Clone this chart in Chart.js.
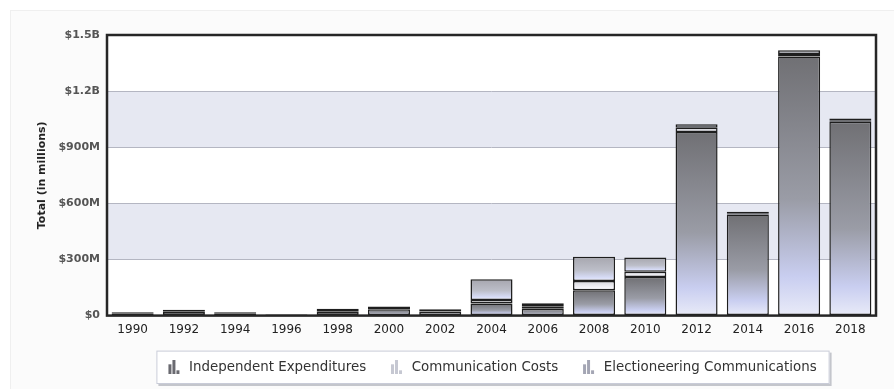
<!DOCTYPE html>
<html>
<head>
<meta charset="utf-8">
<script src="https://cdn.jsdelivr.net/npm/chart.js@4/dist/chart.umd.min.js"></script>
<style>
  html, body { margin: 0; padding: 0; background: #fff; }
  #chart { display: block; }
</style>
</head>
<body>
<canvas id="chart" width="894" height="389"></canvas>
<script>
// values in millions of dollars
const years = ["1990", "1992", "1994", "1996", "1998", "2000", "2002", "2004", "2006", "2008", "2010", "2012", "2014", "2016", "2018"];
const independentExp = [12, 20, 12, 5, 21, 34, 22, 65, 36, 136, 206, 982, 541, 1385, 1036];
const communicationCosts = [6, 11, 6, 2, 15, 14, 12, 19, 14, 49, 29, 22, 6, 14, 8];
const electioneering = [0, 0, 0, 0, 0, 0, 0, 110, 16, 130, 75, 19, 8, 19, 10];
const seriesNames = ["Independent Expenditures", "Communication Costs", "Electioneering Communications"];
const yTicks = [0, 300, 600, 900, 1200, 1500];

const series = [independentExp, communicationCosts, electioneering];

const fills = [
  ["#707074", "#9a9ca6", "#c9cef0", "#e9ebf8"],
  ["#d4d4da", "#ebebf0", "#f7f7fc", "#ffffff"],
  ["#a6a6ae", "#bcbec8", "#d6dbf6", "#eceefa"],
];
const iconColors = ["#6a6a70", "#c6c8d2", "#a4a6b4"];

function segFill(ctx) {
  const stops = fills[ctx.datasetIndex];
  const chart = ctx.chart;
  if (!chart.chartArea || ctx.type !== "data") return stops[1];
  const i = ctx.dataIndex;
  let base = 0;
  for (let k = 0; k < ctx.datasetIndex; k++) base += series[k][i];
  const top = base + series[ctx.datasetIndex][i];
  const y0 = chart.scales.y.getPixelForValue(top);
  const y1 = chart.scales.y.getPixelForValue(base);
  if (y1 - y0 < 2) return stops[1];
  const g = chart.ctx.createLinearGradient(0, y0, 0, y1);
  g.addColorStop(0, stops[0]);
  g.addColorStop(0.55, stops[1]);
  g.addColorStop(0.85, stops[2]);
  g.addColorStop(1, stops[3]);
  return g;
}

function makeIcon(color) {
  const c = document.createElement("canvas");
  c.width = 14;
  c.height = 14;
  const g = c.getContext("2d");
  g.fillStyle = color;
  g.fillRect(1, 4, 3, 10);
  g.fillRect(5, 0, 3, 14);
  g.fillRect(9, 10, 3, 4);
  return c;
}
const icons = iconColors.map(makeIcon);

const fmtMoney = (v) => (v === 0 ? "$0" : v >= 1000 ? "$" + (v / 1000).toFixed(1) + "B" : "$" + v + "M");

const framePlugin = {
  id: "frame",
  beforeDraw(chart) {
    const { ctx, chartArea: a, scales } = chart;
    ctx.save();
    ctx.fillStyle = "#ffffff";
    ctx.fillRect(0, 0, chart.width, chart.height);
    ctx.fillStyle = "#fbfbfb";
    ctx.fillRect(10, 10, chart.width - 10, chart.height - 10);
    ctx.strokeStyle = "#efefef";
    ctx.lineWidth = 1;
    ctx.strokeRect(10.5, 10.5, chart.width, chart.height);
    ctx.fillStyle = "#ffffff";
    ctx.fillRect(a.left, a.top, a.width, a.height);
    // alternating bands
    ctx.fillStyle = "#e6e8f2";
    for (let t = 1; t < yTicks.length - 1; t += 2) {
      const yTop = scales.y.getPixelForValue(yTicks[t + 1]);
      const yBot = scales.y.getPixelForValue(yTicks[t]);
      ctx.fillRect(a.left, yTop, a.width, yBot - yTop);
    }
    // legend box
    const boxes = chart.legend.legendHitBoxes;
    if (boxes && boxes.length) {
      const l = chart.legend;
      const x0 = boxes[0].left - 10;
      const last = boxes[boxes.length - 1];
      const x1 = last.left + last.width + 13;
      ctx.fillStyle = "#c4c6cc";
      ctx.fillRect(x0 + 2, l.top + 2, x1 - x0, l.bottom - l.top);
      ctx.fillStyle = "#ffffff";
      ctx.fillRect(x0, l.top, x1 - x0, l.bottom - l.top);
      ctx.strokeStyle = "#c9ccd8";
      ctx.strokeRect(x0 + 0.5, l.top + 0.5, x1 - x0 - 1, l.bottom - l.top - 1);
    }
    ctx.restore();
  },
  afterDatasetsDraw(chart) {
    const { ctx, chartArea: a } = chart;
    ctx.save();
    ctx.strokeStyle = "#262626";
    ctx.lineWidth = 2.5;
    ctx.strokeRect(a.left, a.top, a.width, a.height);
    ctx.restore();
  },
};

Chart.defaults.font.family = '"DejaVu Sans", Verdana, sans-serif';

new Chart(document.getElementById("chart"), {
  type: "bar",
  data: {
    labels: years,
    datasets: series.map((vals, idx) => ({
      label: seriesNames[idx],
      data: vals,
      backgroundColor: segFill,
      borderColor: "#1e1e1e",
      borderWidth: 1.5,
      borderSkipped: false,
      categoryPercentage: 0.82,
      barPercentage: 1,
    })),
  },
  options: {
    responsive: false,
    animation: false,
    devicePixelRatio: 1,
    layout: { padding: { top: 35, right: 18, bottom: 5, left: 0 } },
    plugins: {
      tooltip: { enabled: false },
      legend: {
        position: "bottom",
        fullSize: false,
        labels: {
          color: "#333",
          font: { size: 13.4 },
          padding: 10,
          usePointStyle: true,
          pointStyleWidth: 16,
          generateLabels: (chart) =>
            seriesNames.map((name, idx) => ({
              text: idx < seriesNames.length - 1 ? name + "   " : name,
              pointStyle: icons[idx],
              fillStyle: iconColors[idx],
              strokeStyle: "transparent",
              lineWidth: 0,
              fontColor: "#333",
              hidden: false,
              datasetIndex: idx,
            })),
        },
      },
    },
    scales: {
      x: {
        stacked: true,
        grid: { display: false, drawTicks: false },
        border: { display: false },
        ticks: { color: "#222", font: { size: 12 }, padding: 7, maxRotation: 0, autoSkip: false },
        afterFit: (s) => { s.height = 35; },
      },
      y: {
        stacked: true,
        min: 0,
        max: 1500,
        afterBuildTicks: (s) => { s.ticks = yTicks.map((v) => ({ value: v })); },
        grid: { color: "#b4b6c2", lineWidth: 1, drawTicks: false },
        border: { display: false },
        ticks: { color: "#555", font: { size: 11, weight: "bold" }, padding: 7, callback: fmtMoney },
        title: {
          display: true,
          text: "Total (in millions)",
          color: "#222",
          font: { size: 11, weight: "bold" },
          padding: { top: 36, bottom: 0 },
        },
        afterFit: (s) => { s.width = 107; },
      },
    },
  },
  plugins: [framePlugin],
});
</script>
</body>
</html>
